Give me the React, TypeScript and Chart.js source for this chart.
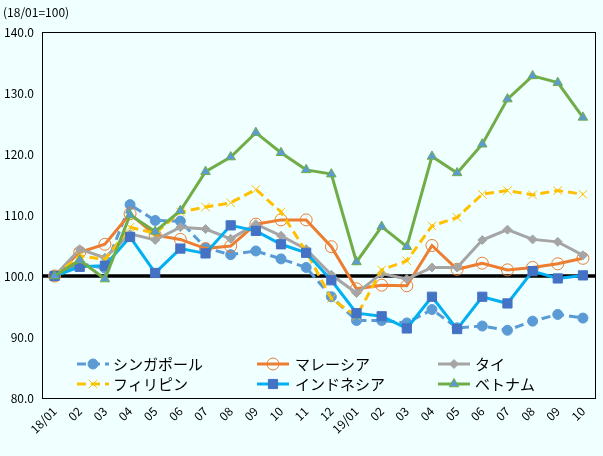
import React, { useEffect, useRef } from 'react';
import { Chart, registerables } from 'chart.js';
import { drawPoint } from 'chart.js/helpers';

Chart.register(...registerables);

const FONT = "'Noto Sans CJK JP', 'Noto Sans', sans-serif";

const categories = ['18/01', '02', '03', '04', '05', '06', '07', '08', '09', '10', '11', '12',
  '19/01', '02', '03', '04', '05', '06', '07', '08', '09', '10'];

const singapore = [100, 102.0, 101.3, 111.7, 109.1, 109.0, 104.6, 103.5, 104.1, 102.8, 101.4, 96.6,
  92.7, 92.7, 92.3, 94.5, 91.5, 91.8, 91.1, 92.6, 93.7, 93.1];
const malaysia = [100, 103.9, 105.2, 110.2, 106.7, 106.0, 104.5, 104.9, 108.5, 109.2, 109.2, 104.8,
  97.9, 98.5, 98.4, 105.0, 101.1, 102.1, 101.0, 101.4, 102.0, 102.9];
const thailand = [100, 104.4, 103.0, 106.9, 105.9, 108.0, 107.7, 106.1, 108.5, 106.6, 104.4, 100.2,
  97.2, 100.4, 99.5, 101.4, 101.4, 105.9, 107.6, 106.0, 105.6, 103.4];
const philippines = [100, 103.3, 102.7, 108.0, 107.0, 110.5, 111.3, 112.0, 114.2, 110.5, 104.0, 96.3,
  93.4, 101.0, 102.5, 108.2, 109.6, 113.4, 114.0, 113.3, 114.0, 113.4];
const indonesia = [100, 101.5, 101.7, 106.4, 100.5, 104.5, 103.7, 108.3, 107.4, 105.2, 103.8, 99.3,
  93.9, 93.4, 91.4, 96.6, 91.3, 96.6, 95.5, 100.8, 99.6, 100.1];
const vietnam = [100, 102.6, 99.5, 110.0, 107.3, 110.7, 117.1, 119.5, 123.5, 120.2, 117.4, 116.7,
  102.3, 108.1, 104.8, 119.6, 116.9, 121.6, 129.0, 132.8, 131.7, 126.0];

const seriesNames = ['シンガポール', 'マレーシア', 'タイ', 'フィリピン', 'インドネシア', 'ベトナム'];
const yTicks = [80, 90, 100, 110, 120, 130, 140];
const baseValue = 100;
const titleText = '(18/01=100)';

const BG = '#F0FFFF';

const overlayPlugin = {
  id: 'overlay',
  beforeDraw(chart: any) {
    const { ctx, width, height } = chart;
    ctx.save();
    ctx.fillStyle = BG;
    ctx.fillRect(0, 0, width, height);
    ctx.restore();
  },
  beforeDatasetsDraw(chart: any) {
    const { ctx, chartArea } = chart;
    const y = chart.scales.y.getPixelForValue(baseValue);
    ctx.save();
    ctx.strokeStyle = '#000';
    ctx.lineWidth = 3.5;
    ctx.beginPath();
    ctx.moveTo(chartArea.left, y);
    ctx.lineTo(chartArea.right, y);
    ctx.stroke();
    ctx.restore();
  },
  afterDraw(chart: any) {
    const { ctx, chartArea } = chart;
    ctx.save();
    ctx.strokeStyle = '#000';
    ctx.lineWidth = 1;
    ctx.strokeRect(Math.round(chartArea.left) + 0.5, Math.round(chartArea.top) + 0.5,
      Math.round(chartArea.right - chartArea.left) - 1, Math.round(chartArea.bottom - chartArea.top));
    // title
    ctx.fillStyle = '#000';
    ctx.font = `12px ${FONT}`;
    ctx.textAlign = 'left';
    ctx.textBaseline = 'middle';
    ctx.fillText(titleText, 3, 12);
    // legend
    const colLine = [77, 257, 438];
    const colText = [113, 295, 475];
    const rowY = [364, 384];
    ctx.font = `15px ${FONT}`;
    chart.data.datasets.forEach((ds: any, i: number) => {
      const c = i % 3;
      const r = Math.floor(i / 3);
      const y = rowY[r];
      const x0 = colLine[c];
      const x1 = x0 + 32;
      ctx.save();
      ctx.strokeStyle = ds.borderColor;
      ctx.lineWidth = ds.borderWidth;
      ctx.setLineDash(ds.borderDash || []);
      ctx.beginPath();
      ctx.moveTo(x0, y);
      ctx.lineTo(x1, y);
      ctx.stroke();
      ctx.setLineDash([]);
      ctx.fillStyle = ds.pointBackgroundColor;
      ctx.strokeStyle = ds.pointBorderColor;
      ctx.lineWidth = ds.pointBorderWidth;
      drawPoint(ctx, { pointStyle: ds.pointStyle, radius: ds.pointRadius, borderWidth: ds.pointBorderWidth, rotation: 0 } as any, (x0 + x1) / 2, y);
      ctx.restore();
      ctx.fillStyle = '#000';
      ctx.textAlign = 'left';
      ctx.textBaseline = 'middle';
      ctx.fillText(seriesNames[i], colText[c], y);
    });
    ctx.restore();
  },
};

export default function App() {
  const ref = useRef<HTMLCanvasElement>(null);
  useEffect(() => {
    if (!ref.current) return;
    const mk = (i: number, data: number[], o: any) => ({
      label: seriesNames[i],
      data,
      borderWidth: 3,
      fill: false,
      tension: 0,
      order: 5 - i,
      pointHoverRadius: o.pointRadius,
      ...o,
    });
    const chart = new Chart(ref.current, {
      type: 'line',
      data: {
        labels: categories,
        datasets: [
          mk(0, singapore, { borderColor: '#5B9BD5', borderDash: [9, 5], pointStyle: 'circle', pointRadius: 5, pointBackgroundColor: '#5B9BD5', pointBorderColor: '#5B9BD5', pointBorderWidth: 1 }),
          mk(1, malaysia, { borderColor: '#ED7D31', pointStyle: 'circle', pointRadius: 6, pointBackgroundColor: 'rgba(0,0,0,0)', pointBorderColor: '#ED7D31', pointBorderWidth: 1 }),
          mk(2, thailand, { borderColor: '#A5A5A5', pointStyle: 'rectRot', pointRadius: 4.5, pointBackgroundColor: '#A5A5A5', pointBorderColor: '#A5A5A5', pointBorderWidth: 1 }),
          mk(3, philippines, { borderColor: '#FFC000', borderDash: [9, 5], pointStyle: 'crossRot', pointRadius: 6, pointBackgroundColor: '#FFC000', pointBorderColor: '#FFC000', pointBorderWidth: 1 }),
          mk(4, indonesia, { borderColor: '#00B0F0', pointStyle: 'rect', pointRadius: 6.5, pointBackgroundColor: '#4472C4', pointBorderColor: '#4472C4', pointBorderWidth: 1 }),
          mk(5, vietnam, { borderColor: '#70AD47', pointStyle: 'triangle', pointRadius: 5.5, pointBackgroundColor: '#5B9BD5', pointBorderColor: '#70AD47', pointBorderWidth: 1 }),
        ],
      },
      options: {
        responsive: false,
        animation: false,
        layout: { padding: { left: 0, right: 5, top: 32, bottom: 0 } },
        plugins: { legend: { display: false }, tooltip: { enabled: false }, title: { display: false } },
        scales: {
          x: {
            type: 'category',
            offset: true,
            grid: { display: false, drawTicks: false },
            border: { display: false },
            ticks: {
              autoSkip: false,
              minRotation: 45,
              maxRotation: 45,
              padding: 6,
              color: '#000',
              font: { family: FONT, size: 12 },
            },
            afterFit: (s: any) => { s.height = 58; },
          },
          y: {
            min: yTicks[0],
            max: yTicks[yTicks.length - 1],
            grid: { display: false, drawTicks: false },
            border: { display: false },
            afterBuildTicks: (s: any) => { s.ticks = yTicks.map((v) => ({ value: v })); },
            ticks: {
              padding: 8,
              color: '#000',
              font: { family: FONT, size: 12 },
              callback: (v: any) => Number(v).toFixed(1),
            },
            afterFit: (s: any) => { s.width = 42; },
          },
        },
      },
      plugins: [overlayPlugin],
    });
    return () => chart.destroy();
  }, []);
  return (
    <div style={{ position: 'absolute', left: 0, top: 0, width: 603, height: 456, background: BG }}>
      <canvas ref={ref} width={603} height={456} style={{ display: 'block' }} />
    </div>
  );
}
